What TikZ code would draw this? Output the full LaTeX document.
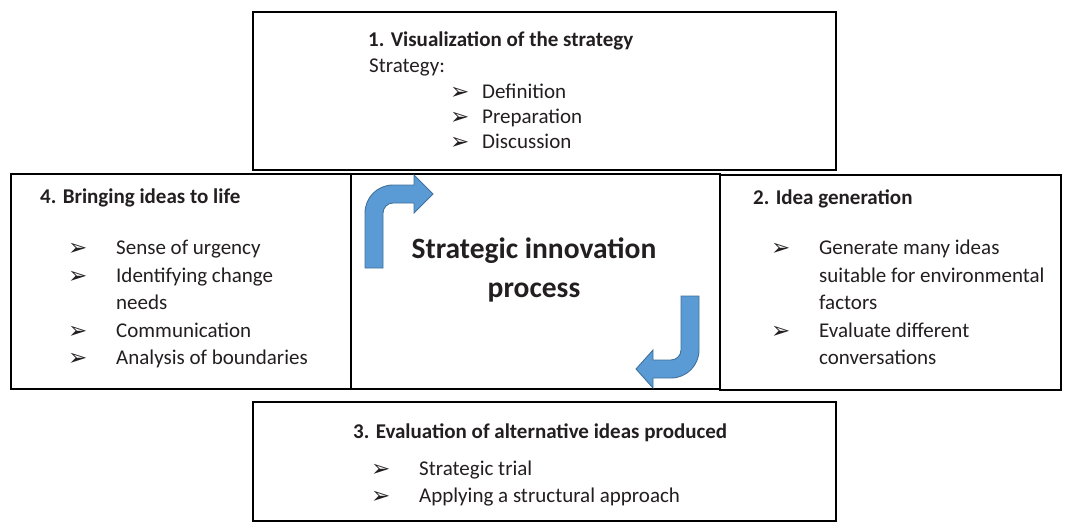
\documentclass[tikz,border=0pt]{standalone}
\usepackage{fontspec}
\setmainfont{Carlito}
\newfontfamily\symfont{DejaVu Sans}
\definecolor{txt}{HTML}{231F20}
\definecolor{arrowfill}{HTML}{5B9BD5}
\definecolor{arrowline}{HTML}{41719C}
\tikzset{
  box/.style={draw=black, line width=1.8pt, fill=white, anchor=north west, inner sep=0pt},
  label/.style={anchor=base west, inner sep=0pt, text=txt, font=\fontsize{21}{25}\selectfont},
  head/.style={label, font=\fontsize{21}{25}\selectfont\bfseries},
  bul/.style={anchor=base west, inner sep=0pt, text=txt, font=\symfont\fontsize{23}{26}\selectfont},
  centre/.style={anchor=base, inner sep=0pt, text=txt, font=\fontsize{29.5}{34}\selectfont\bfseries},
  bent/.style={fill=arrowfill, draw=arrowline, line width=0.9pt, line join=miter}
}
\begin{document}
\begin{tikzpicture}[x=1pt, y=-1pt]
\useasboundingbox (0,0) rectangle (1067,527);

% boxes
\node[box, minimum width=583pt, minimum height=158pt] (vis) at (252,11) {};
\node[box, minimum width=340pt, minimum height=215pt] (life) at (10,173) {};
\node[box, minimum width=369pt, minimum height=215pt] (core) at (350,173) {};
\node[box, minimum width=341pt, minimum height=215pt] (gen) at (719,174) {};
\node[box, minimum width=583pt, minimum height=119pt] (eval) at (252,401) {};

% 1. visualization
\node[head] (t1) at (368,47) {1. Visualization of the strategy};
\node[label] (t1s) at (369,72) {Strategy:};
\node[bul] (b1a) at (450,99) {➢};
\node[label] (t1a) at (482,98) {Definition};
\node[bul] (b1b) at (450,124) {➢};
\node[label] (t1b) at (482,123) {Preparation};
\node[bul] (b1c) at (450,149) {➢};
\node[label] (t1c) at (482,148) {Discussion};

% 4. bringing ideas to life
\node[head] (t4) at (40,203) {4. Bringing ideas to life};
\node[bul] (b4a) at (68,255) {➢};
\node[label] (t4a) at (116,254) {Sense of urgency};
\node[bul] (b4b) at (68,283) {➢};
\node[label] (t4b) at (116,282) {Identifying change};
\node[label] (t4c) at (116,309) {needs};
\node[bul] (b4d) at (68,338) {➢};
\node[label] (t4d) at (116,337) {Communication};
\node[bul] (b4e) at (68,365) {➢};
\node[label] (t4e) at (116,364) {Analysis of boundaries};

% 2. idea generation
\node[head] (t2) at (753,204) {2. Idea generation};
\node[bul] (b2a) at (771,255) {➢};
\node[label] (t2a) at (819,254) {Generate many ideas};
\node[label] (t2b) at (819,282) {suitable for environmental};
\node[label] (t2c) at (819,309) {factors};
\node[bul] (b2d) at (771,338) {➢};
\node[label] (t2d) at (819,337) {Evaluate different};
\node[label] (t2e) at (819,364) {conversations};

% 3. evaluation
\node[head] (t3) at (353,438) {3. Evaluation of alternative ideas produced};
\node[bul] (b3a) at (371,476) {➢};
\node[label] (t3a) at (419,475) {Strategic trial};
\node[bul] (b3b) at (371,503) {➢};
\node[label] (t3b) at (419,502) {Applying a structural approach};

% centre title
\node[centre] (c1) at (534,258) {Strategic innovation};
\node[centre] (c2) at (534,297) {process};

% bent arrow, up then right
\draw[bent] (365,268) -- (365,213)
  .. controls (365,197.5) and (377.5,185) .. (393,185)
  -- (414,185) -- (414,175) -- (433,194) -- (414,213) -- (414,203) -- (393,203)
  .. controls (387.5,203) and (383,207.5) .. (383,213)
  -- (383,268) -- cycle;

% bent arrow, down then left
\draw[bent] (681,296) -- (699,296) -- (699,350)
  .. controls (699,365.5) and (686.5,378) .. (671,378)
  -- (653,378) -- (653,388) -- (636,369) -- (653,350) -- (653,360) -- (671,360)
  .. controls (676.5,360) and (681,355.5) .. (681,350) -- cycle;
\end{tikzpicture}
\end{document}
